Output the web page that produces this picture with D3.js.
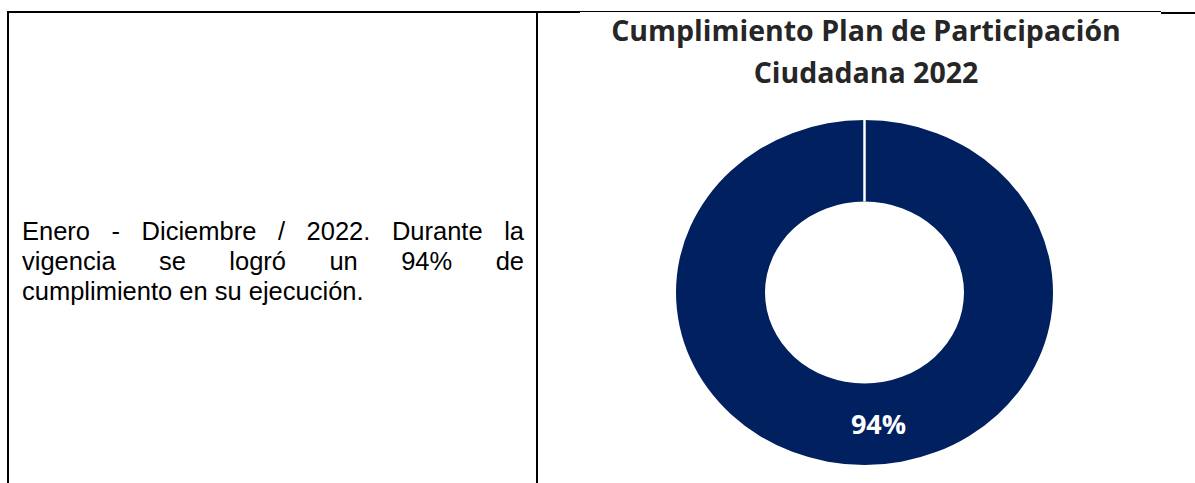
<!DOCTYPE html>
<html>
<head>
<meta charset="utf-8">
<script src="https://cdn.jsdelivr.net/npm/d3@7"></script>
<style>
  body { margin: 0; background: #fff; }
  #wrap { position: relative; width: 1195px; height: 483px; overflow: hidden; }
  #note {
    position: absolute; left: 22px; top: 216px; width: 502px;
    font-family: "Liberation Sans", Arial, sans-serif; font-size: 25.5px;
    line-height: 30px; color: #000;
  }
  #note .ln { white-space: nowrap; text-align: justify; text-align-last: justify; }
  #note .ln.last { text-align-last: left; }
  svg { position: absolute; left: 0; top: 0; }
</style>
</head>
<body>
<div id="wrap"></div>
<script>
// Chart data
const titleLines = ["Cumplimiento Plan de Participación", "Ciudadana 2022"];
const categories = ["Cumplimiento"];
const values = [94];
const noteLines = [
    "Enero - Diciembre / 2022. Durante la",
    "vigencia se logró un 94% de",
    "cumplimiento en su ejecución."
];

const W = 1195, H = 483;
const wrap = d3.select("#wrap");

const svg = wrap.append("svg")
    .attr("width", W)
    .attr("height", H);

// Left cell text (justified paragraph, same line breaks as the source)
wrap.append("div")
    .attr("id", "note")
    .selectAll("div")
    .data(noteLines)
    .enter()
    .append("div")
    .attr("class", (d, i) => i === noteLines.length - 1 ? "ln last" : "ln")
    .text(d => d);

// Table borders
svg.append("rect").attr("x", 7).attr("y", 11).attr("width", 573).attr("height", 2).attr("fill", "#000");
svg.append("rect").attr("x", 580).attr("y", 11).attr("width", 581).attr("height", 1).attr("fill", "#000");
svg.append("rect").attr("x", 1161).attr("y", 12).attr("width", 34).attr("height", 2).attr("fill", "#000");
svg.append("rect").attr("x", 7).attr("y", 11).attr("width", 2).attr("height", H).attr("fill", "#000");
svg.append("rect").attr("x", 536).attr("y", 11).attr("width", 2).attr("height", H).attr("fill", "#000");

// Title
svg.append("text")
    .attr("x", 866)
    .attr("y", 41)
    .attr("text-anchor", "middle")
    .style("font-family", "'Open Sans', sans-serif")
    .style("font-weight", "bold")
    .style("font-size", "28.5px")
    .style("fill", "#262626")
    .selectAll("tspan")
    .data(titleLines)
    .enter()
    .append("tspan")
    .attr("x", 866)
    .attr("dy", (d, i) => i === 0 ? 0 : 42)
    .text(d => d);

// Donut (slightly squashed vertically like the source image)
const cx = 864.5, cy = 292.5;
const outerR = 188.5, innerR = 99.5, yScale = 0.915;

const pie = d3.pie().sort(null);
const arc = d3.arc().innerRadius(innerR).outerRadius(outerR);

const g = svg.append("g")
    .attr("transform", `translate(${cx},${cy}) scale(1,${yScale})`);

const slices = pie(values);

g.selectAll("path")
    .data(slices)
    .enter()
    .append("path")
    .attr("d", arc)
    .attr("fill", "#002060");

// White seam at the start of the ring
g.selectAll("line.seam")
    .data(slices)
    .enter()
    .append("line")
    .attr("class", "seam")
    .attr("x1", d => innerR * Math.sin(d.startAngle))
    .attr("y1", d => -innerR * Math.cos(d.startAngle))
    .attr("x2", d => outerR * Math.sin(d.startAngle))
    .attr("y2", d => -outerR * Math.cos(d.startAngle))
    .attr("stroke", "#fff")
    .attr("stroke-width", 2.5);

// Value label
const total = 100;
svg.selectAll("text.lbl")
    .data(slices)
    .enter()
    .append("text")
    .attr("class", "lbl")
    .attr("x", d => cx + arc.centroid(d)[0] + 14)
    .attr("y", d => cy + arc.centroid(d)[1] * yScale + 10)
    .attr("text-anchor", "middle")
    .style("font-family", "'Open Sans', sans-serif")
    .style("font-weight", "bold")
    .style("font-size", "27px")
    .style("fill", "#fff")
    .text(d => Math.round(d.value / total * 100) + "%");
</script>
</body>
</html>
